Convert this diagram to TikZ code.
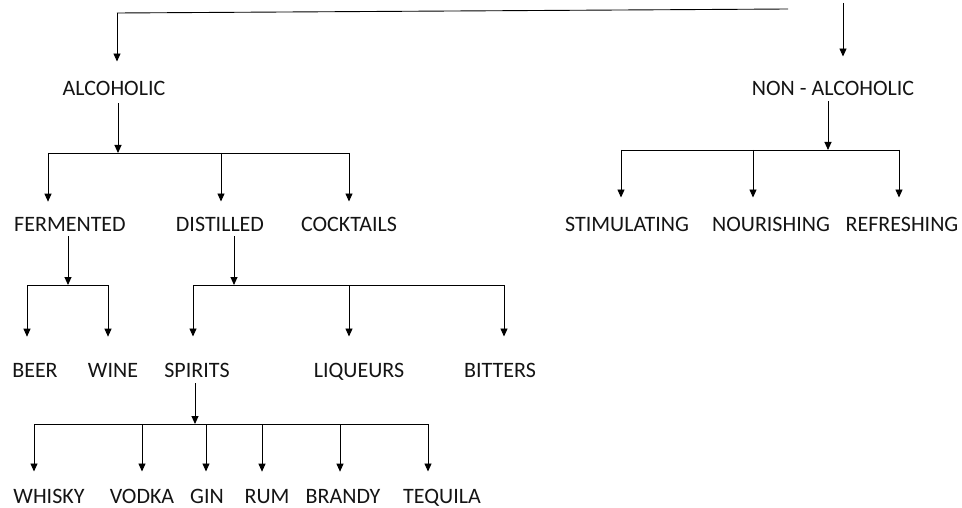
\documentclass[tikz,border=0pt]{standalone}
\usepackage{fontspec}
\setmainfont{Carlito}
\usetikzlibrary{arrows.meta,calc}
\begin{document}
\begin{tikzpicture}[x=1pt,y=-1pt,
  lbl/.style={font=\fontsize{22}{24}\selectfont, inner sep=0pt, anchor=base, text depth=0pt, text=black!92},
  arr/.style={-{Triangle[length=8pt,width=7pt]}, line width=0.9pt},
  ln/.style={line width=0.9pt}]
\useasboundingbox (0,0) rectangle (962,508);

% nodes (baselines)
\node[lbl] (alc) at (114,96) {ALCOHOLIC};
\node[lbl] (nonalc) at (833,96) {NON - ALCOHOLIC};
\node[lbl] (ferm) at (70,232) {FERMENTED};
\node[lbl] (dist) at (220,232) {DISTILLED};
\node[lbl] (cock) at (349,232) {COCKTAILS};
\node[lbl] (stim) at (627,232) {STIMULATING};
\node[lbl] (nour) at (771,232) {NOURISHING};
\node[lbl] (refr) at (902,232) {REFRESHING};
\node[lbl] (beer) at (35,377) {BEER};
\node[lbl] (wine) at (113,377) {WINE};
\node[lbl] (spir) at (197,377) {SPIRITS};
\node[lbl] (liq) at (359,377) {LIQUEURS};
\node[lbl] (bitt) at (500,377) {BITTERS};
\node[lbl] (whisky) at (49,503) {WHISKY};
\node[lbl] (vodka) at (142,503) {VODKA};
\node[lbl] (gin) at (207,503) {GIN};
\node[lbl] (rum) at (267,503) {RUM};
\node[lbl] (brandy) at (343,503) {BRANDY};
\node[lbl] (tequila) at (442,503) {TEQUILA};

% top connector
\coordinate (tl) at (117,13);
\coordinate (tr) at (788,9);
\coordinate (ra) at (843,3);
\draw[ln] (tr) -- (tl);
\draw[arr] (tl) -- ($(alc.north -| tl)+(0,-20)$);
\draw[arr] (ra) -- ($(nonalc.north -| ra)+(0,-25)$);

% alcoholic branch
\coordinate (j1) at (118,153);
\coordinate (a1) at (48,153);
\coordinate (a2) at (221,153);
\coordinate (a3) at (349,153);
\draw[arr] ($(alc.south -| j1)+(0,7)$) -- (j1);
\draw[ln] (a1) -- (a3);
\draw[arr] (a1) -- ($(a1 |- ferm.north)+(0,-16)$);
\draw[arr] (a2) -- ($(a2 |- dist.north)+(0,-16)$);
\draw[arr] (a3) -- ($(a3 |- cock.north)+(0,-16)$);

% non-alcoholic branch
\coordinate (j2) at (828,150);
\coordinate (n1) at (621,150);
\coordinate (n2) at (753,150);
\coordinate (n3) at (899,150);
\draw[arr] ($(nonalc.south -| j2)+(0,5)$) -- (j2);
\draw[ln] (n1) -- (n3);
\draw[arr] (n1) -- ($(n1 |- stim.north)+(0,-20)$);
\draw[arr] (n2) -- ($(n2 |- nour.north)+(0,-20)$);
\draw[arr] (n3) -- ($(n3 |- refr.north)+(0,-20)$);

% fermented branch
\coordinate (j3) at (68,285);
\coordinate (f1) at (27,285);
\coordinate (f2) at (108,285);
\draw[arr] ($(ferm.south -| j3)+(0,4)$) -- (j3);
\draw[ln] (f1) -- (f2);
\draw[arr] (f1) -- ($(f1 |- beer.north)+(0,-26)$);
\draw[arr] (f2) -- ($(f2 |- wine.north)+(0,-26)$);

% distilled branch
\coordinate (j4) at (234,285);
\coordinate (s1) at (193,285);
\coordinate (s2) at (349,285);
\coordinate (s3) at (504,285);
\draw[arr] ($(dist.south -| j4)+(0,4)$) -- (j4);
\draw[ln] (s1) -- (s3);
\draw[arr] (s1) -- ($(s1 |- spir.north)+(0,-26)$);
\draw[arr] (s2) -- ($(s2 |- liq.north)+(0,-26)$);
\draw[arr] (s3) -- ($(s3 |- bitt.north)+(0,-26)$);

% spirits branch
\coordinate (j5) at (195,424);
\coordinate (p1) at (34,424);
\coordinate (p2) at (142,424);
\coordinate (p3) at (206,424);
\coordinate (p4) at (262,424);
\coordinate (p5) at (340,424);
\coordinate (p6) at (428,424);
\draw[arr] ($(spir.south -| j5)+(0,6)$) -- (j5);
\draw[ln] (p1) -- (p6);
\draw[arr] (p1) -- ($(p1 |- whisky.north)+(0,-17)$);
\draw[arr] (p2) -- ($(p2 |- vodka.north)+(0,-17)$);
\draw[arr] (p3) -- ($(p3 |- gin.north)+(0,-17)$);
\draw[arr] (p4) -- ($(p4 |- rum.north)+(0,-17)$);
\draw[arr] (p5) -- ($(p5 |- brandy.north)+(0,-17)$);
\draw[arr] (p6) -- ($(p6 |- tequila.north)+(0,-17)$);
\end{tikzpicture}
\end{document}
